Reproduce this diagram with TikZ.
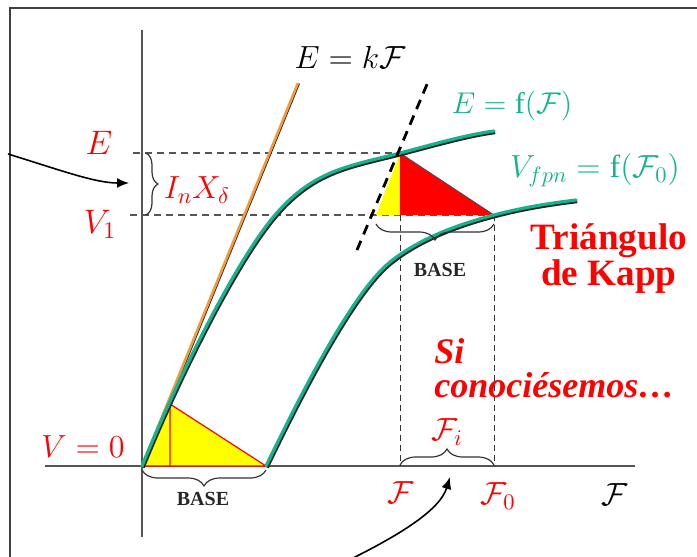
\RequirePackage{fix-cm}
\documentclass[tikz,border=0pt]{standalone}
\usepackage{fontspec}
\setmainfont{Liberation Serif}
\usepackage{tikz}
\usetikzlibrary{arrows.meta, decorations.pathreplacing, calc}
\definecolor{kappgreen}{HTML}{16B48E}
\definecolor{kapporange}{HTML}{F39A3B}
\definecolor{axisgray}{HTML}{555555}
\definecolor{kappred}{HTML}{FF0000}
\definecolor{kappyellow}{HTML}{FFFF00}

\begin{document}
\begin{tikzpicture}[x=0.5pt, y=-0.5pt,
  axis/.style={axisgray, line width=0.8pt},
  guide/.style={axisgray, dash pattern=on 3.5pt off 2.5pt, line width=0.7pt},
  thinguide/.style={black!80, dash pattern=on 3pt off 2pt, line width=0.5pt},
  greencurve/.style={kappgreen, line width=1.6pt, line cap=round,
    preaction={draw=black!85, line width=1.6pt, transform canvas={shift={(0.6pt,-0.8pt)}}}},
  bracebox/.style={decorate, decoration={brace, amplitude=#1}, black!80, line width=0.6pt},
  redlabel/.style={text=kappred, font=\fontsize{17}{20}\selectfont, inner sep=0pt},
  greenlabel/.style={text=kappgreen, font=\fontsize{15}{18}\selectfont, inner sep=0pt},
  baselabel/.style={text=black!85, font=\fontsize{10}{12}\selectfont\bfseries, inner sep=0pt},
  pointer/.style={-{Latex[length=6pt, width=5pt]}, black, line width=0.8pt}]
  \useasboundingbox (0,0) rectangle (697,557);
  \clip (0,0) rectangle (697,557);

  % frame
  \draw[black!75, line width=1pt] (10,557) -- (10,7.5) -- (700,7.5);

  % key points
  \coordinate (O) at (142,466);
  \coordinate (Ktop) at (298,83);
  \coordinate (P) at (400,153);
  \coordinate (Q) at (494,215);
  \coordinate (R) at (376,215);
  \coordinate (Pfoot) at (400,215);
  \coordinate (Eknee) at (275,215);
  \coordinate (Eend) at (494,131);
  \coordinate (Vstart) at (266,466);
  \coordinate (Vknee) at (390,262);
  \coordinate (Vend) at (576,200);
  \coordinate (S) at (170,404);
  \coordinate (Sfoot) at (170,466);
  \coordinate (T1) at (357,250);
  \coordinate (T2) at (428,82);

  % axes
  \draw[axis] (142,30) -- (142,537);
  \draw[axis] (45,466) -- (635,466);

  % dashed guides
  \draw[guide] (133,153) -- (P);
  \draw[guide] (130,215) -- (Q);
  \draw[thinguide] (Pfoot) -- (400,466);
  \draw[thinguide] (Q) -- (494,466);

  % triangles
  \fill[kappyellow] (O) -- (S) -- (Vstart) -- cycle;
  \draw[kappred, line width=0.6pt] (S) -- (Vstart) -- (O) (S) -- (Sfoot);
  \fill[kappyellow] (R) -- (P) -- (Pfoot) -- cycle;
  \fill[kappred] (P) -- (Q) -- (Pfoot) -- cycle;
  \draw[black!70, line width=0.4pt] (P) -- (Q);

  % E = k F
  \draw[black!85, line width=0.6pt, transform canvas={shift={(0.7pt,-0.3pt)}}] (O) -- (Ktop);
  \draw[kapporange, line width=1.3pt] (O) -- (Ktop);

  % magnetisation curves
  \draw[greencurve] (O) .. controls (178.6,376) and (236,260.6) .. (Eknee)
    .. controls (314,169.4) and (350,166) .. (P)
    .. controls (433,144.4) and (465,135) .. (Eend);
  \draw[greencurve] (Vstart) .. controls (296.5,403) and (351,293.5) .. (Vknee)
    .. controls (417.3,240) and (454,225.4) .. (Q)
    .. controls (524,207) and (552,203) .. (Vend);

  % tangent
  \draw[black, line width=1.4pt, dash pattern=on 5pt off 3.5pt] (T1) -- (T2);

  % braces
  \draw[bracebox=6pt] (146,153) -- (146,215);
  \draw[bracebox=8pt] (494,224) -- (376,224);
  \draw[bracebox=8pt] (266,470) -- (142,470);
  \draw[bracebox=8pt] (400,465) -- (494,465);

  % labels
  \node[redlabel] (lblE) at (99,143) {$E$};
  \node[redlabel] (lblV1) at (100,224) {$V_1$};
  \node[redlabel, font=\fontsize{16}{19}\selectfont] (lblIX) at (197,190) {$I_n X_\delta$};
  \node[inner sep=0pt, font=\fontsize{16}{19}\selectfont] (lblEk) at (350,57) {$E = k\mathcal{F}$};
  \node[greenlabel] (lblEf) at (512,106) {$E = \mathrm{f}(\mathcal{F})$};
  \node[greenlabel, font=\fontsize{16}{19}\selectfont] (lblVf) at (595,170) {$V_{fpn} = \mathrm{f}(\mathcal{F}_0)$};
  \node[text=kappred, font=\fontsize{18.6}{16.5}\selectfont\bfseries, align=center, inner sep=0pt]
    (lblKapp) at (609,259) {Triángulo\\de Kapp};
  \node[baselabel] (lblBaseK) at (440,270) {BASE};
  \node[baselabel] (lblBaseO) at (203,499) {BASE};
  \node[redlabel, font=\fontsize{16}{19}\selectfont] (lblV0) at (83,447) {$V = 0$};
  \node[text=kappred, font=\fontsize{18}{17}\selectfont\bfseries\itshape, align=left,
    inner sep=0pt, anchor=west] (lblSi) at (434,368) {Si\\conociésemos…};
  \node[redlabel, font=\fontsize{16}{19}\selectfont] (lblFi) at (447,432) {$\mathcal{F}_i$};
  \node[redlabel, font=\fontsize{16}{19}\selectfont] (lblF) at (401,493) {$\mathcal{F}$};
  \node[redlabel, font=\fontsize{16}{19}\selectfont] (lblF0) at (498,496) {$\mathcal{F}_0$};
  \node[inner sep=0pt, font=\fontsize{16}{19}\selectfont] (lblFaxis) at (615,495) {$\mathcal{F}$};

  % pointers
  \coordinate (inLeft) at (8,154);
  \coordinate (tipLeft) at (129,183);
  \coordinate (inBottom) at (345,562);
  \coordinate (tipBottom) at (450,477);
  \draw[pointer] (inLeft) .. controls (60,170) and (95,183) .. (tipLeft);
  \draw[pointer] (inBottom) .. controls (400,535) and (440,510) .. (tipBottom);
\end{tikzpicture}
\end{document}
